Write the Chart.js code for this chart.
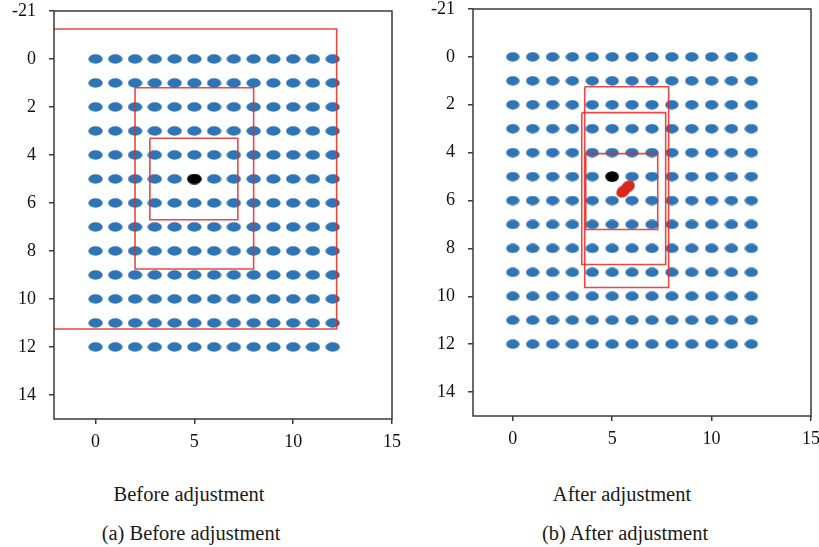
<!DOCTYPE html>
<html>
<head>
<meta charset="utf-8">
<script src="https://cdn.jsdelivr.net/npm/chart.js@4"></script>
<style>
  html, body { margin: 0; padding: 0; background: #fff; width: 819px; height: 547px; overflow: hidden; position: relative; }
  canvas { position: absolute; }
  .cap { position: absolute; font-family: "Liberation Serif", "DejaVu Serif", serif; font-size: 20.5px; line-height: 24px; color: #1a1a1a; white-space: nowrap; transform: translateX(-50%); }
</style>
</head>
<body>
<div style="position:absolute;left:0;top:-20px;width:420px;height:479px;"><canvas id="c1"></canvas></div>
<div style="position:absolute;left:410px;top:-20px;width:430px;height:476px;"><canvas id="c2"></canvas></div>
<div class="cap" style="left:189px;top:482px;">Before adjustment</div>
<div class="cap" style="left:191px;top:521px;">(a) Before adjustment</div>
<div class="cap" style="left:622px;top:482px;">After adjustment</div>
<div class="cap" style="left:625px;top:521px;">(b) After adjustment</div>
<script>
// ---- data ----
const gridX = [0, 1, 2, 3, 4, 5, 6, 7, 8, 9, 10, 11, 12];
const gridY = [0, 1, 2, 3, 4, 5, 6, 7, 8, 9, 10, 11, 12];
const beforeTarget = [5, 5];
const afterTarget = [5, 5];
const afterEstimate = [[5.55, 5.62], [5.8, 5.42]];
// boxes: [xLeft, xRight, yTop, yBottom]
const beforeBoxes = [[-2.2, 12.2, -1.25, 11.25], [2.0, 8.0, 1.2, 8.75], [2.75, 7.2, 3.3, 6.7]];
const afterBoxes = [[3.62, 7.84, 1.25, 9.63], [3.47, 7.69, 2.33, 8.67], [3.67, 7.29, 4.04, 7.21]];
const xTickValues = [0, 5, 10, 15];
const yTickValues = [-2, 0, 2, 4, 6, 8, 10, 12, 14];
const yTickLabels = ['-21', '0', '2', '4', '6', '8', '10', '12', '14'];

// ---- helpers ----
function ellipse(color, w, h) {
  const c = document.createElement('canvas');
  c.width = w; c.height = h;
  const g = c.getContext('2d');
  g.fillStyle = color;
  g.beginPath();
  g.ellipse(w / 2, h / 2, w / 2 - 0.3, h / 2 - 0.3, 0, 0, Math.PI * 2);
  g.fill();
  return c;
}
function boxPath(b) {
  return [{x: b[0], y: b[2]}, {x: b[1], y: b[2]}, {x: b[1], y: b[3]}, {x: b[0], y: b[3]}, {x: b[0], y: b[2]}];
}
const frame = {
  id: 'frame',
  afterDraw(chart) {
    const a = chart.chartArea, g = chart.ctx;
    g.save();
    g.strokeStyle = '#3a3a3a';
    g.lineWidth = 1.5;
    g.strokeRect(a.left, a.top, a.right - a.left, a.bottom - a.top);
    g.restore();
  }
};
const FONT = {family: '"Liberation Serif", "DejaVu Serif", serif', size: 18};

function makeChart(id, opt) {
  const blue = [];
  gridY.forEach(y => gridX.forEach(x => blue.push({x, y})));
  const dotW = opt.dotW, dotH = opt.dotH;
  const datasets = [];
  if (opt.estimate) {
    datasets.push({
      data: opt.estimate.map(p => ({x: p[0], y: p[1]})),
      pointStyle: ellipse('#d9261c', 15, 12),
      rotation: -35,
      showLine: false
    });
  }
  opt.boxes.forEach(b => datasets.push({
    data: boxPath(b), showLine: true, borderColor: 'rgba(230,40,35,0.85)', borderWidth: 1.6,
    pointRadius: 0, tension: 0, fill: false
  }));
  datasets.push({data: [{x: opt.target[0], y: opt.target[1]}], pointStyle: ellipse('#000000', dotW, dotH + 1), showLine: false});
  datasets.push({data: blue, pointStyle: ellipse('#2f75b5', dotW, dotH), showLine: false});

  return new Chart(document.getElementById(id), {
    type: 'scatter',
    data: {datasets},
    options: {
      responsive: true, maintainAspectRatio: false, animation: false,
      layout: {padding: opt.pad},
      plugins: {legend: {display: false}, tooltip: {enabled: false}},
      scales: {
        x: {
          type: 'linear', min: opt.xmin, max: 15,
          afterBuildTicks: s => { s.ticks = xTickValues.map(v => ({value: v})); },
          afterFit: s => { s.height = 40; },
          grid: {drawOnChartArea: false, drawTicks: true, tickLength: 5, color: '#3a3a3a', lineWidth: 1.5},
          border: {display: false},
          ticks: {font: FONT, color: '#111', padding: 7, maxRotation: 0, autoSkip: false}
        },
        y: {
          type: 'linear', min: -2, max: 15, reverse: true,
          afterBuildTicks: s => { s.ticks = yTickValues.map(v => ({value: v})); },
          afterFit: s => { s.width = opt.yw; },
          grid: {drawOnChartArea: false, drawTicks: true, tickLength: 5, color: '#3a3a3a', lineWidth: 1.5},
          border: {display: false},
          ticks: {font: FONT, color: '#111', padding: 13, autoSkip: false,
            callback: (v) => { const i = yTickValues.indexOf(v); return i >= 0 ? yTickLabels[i] : ''; }}
        }
      }
    },
    plugins: [frame]
  });
}

makeChart('c1', {xmin: -2.1, boxes: beforeBoxes, target: beforeTarget, estimate: null,
  dotW: 15, dotH: 10, yw: 54, pad: {top: 31, right: 28, bottom: 0, left: 0}});
makeChart('c2', {xmin: -2.0, boxes: afterBoxes, target: afterTarget, estimate: afterEstimate,
  dotW: 14, dotH: 10, yw: 63, pad: {top: 29, right: 29, bottom: 0, left: 0}});
</script>
</body>
</html>
